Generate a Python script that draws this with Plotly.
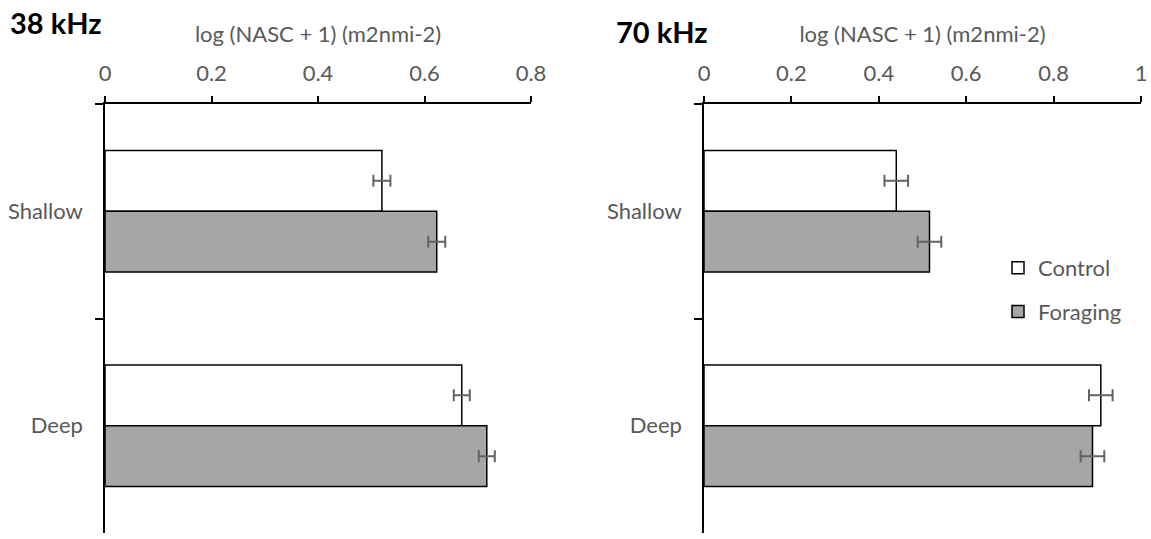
import plotly.graph_objects as go
from plotly.subplots import make_subplots

# Depth strata and treatment groups
depths = ["Shallow", "Deep"]
groups = ["Control", "Foraging"]

# Mean log(NASC + 1) and standard error, 38 kHz
nasc_38_control = [0.520, 0.670]
nasc_38_foraging = [0.623, 0.717]
se_38_control = [0.016, 0.015]
se_38_foraging = [0.016, 0.015]

# Mean log(NASC + 1) and standard error, 70 kHz
nasc_70_control = [0.440, 0.908]
nasc_70_foraging = [0.516, 0.889]
se_70_control = [0.027, 0.027]
se_70_foraging = [0.027, 0.027]

x_ticks_38 = [0, 0.2, 0.4, 0.6, 0.8]
x_ticks_70 = [0, 0.2, 0.4, 0.6, 0.8, 1]

W, H = 1151, 539
FONT = "Lato"
GREY_TXT = "#595959"
FILLS = {"Control": "#FFFFFF", "Foraging": "#A6A6A6"}

fig = make_subplots(rows=1, cols=2)

panels = [
    (1, [nasc_38_control, nasc_38_foraging], [se_38_control, se_38_foraging], False),
    (2, [nasc_70_control, nasc_70_foraging], [se_70_control, se_70_foraging], True),
]
for col, vals, errs, show_leg in panels:
    for g, v, e in zip(groups, vals, errs):
        fig.add_trace(
            go.Bar(
                y=depths, x=v, name=g, orientation="h",
                marker=dict(color=FILLS[g], line=dict(color="black", width=1.5)),
                error_x=dict(type="data", array=e, color="#636363",
                             thickness=2, width=6),
                showlegend=show_leg, legendgroup=g,
            ),
            row=1, col=col,
        )

def px_x(p):
    return p / W

def px_y(p):
    return 1 - p / H

y_dom = [px_y(533), px_y(104)]

axis_common = dict(
    side="top", ticks="outside", ticklen=6, tickwidth=1.5, tickcolor="black",
    showline=True, linecolor="black", linewidth=1.5, showgrid=False,
    zeroline=False, automargin=False, ticklabelstandoff=6,
    tickfont=dict(family=FONT, size=22, color=GREY_TXT),
    title=dict(text="log (NASC + 1) (m2nmi-2)",
               font=dict(family=FONT, size=22, color=GREY_TXT), standoff=11),
)

fig.update_layout(
    xaxis=dict(axis_common, domain=[px_x(105), px_x(531)], range=[0, 0.8],
               tickvals=x_ticks_38, ticktext=[f"{t:g}" for t in x_ticks_38],
               anchor="y"),
    xaxis2=dict(axis_common, domain=[px_x(704), px_x(1141)], range=[0, 1],
                tickvals=x_ticks_70, ticktext=[f"{t:g}" for t in x_ticks_70],
                anchor="y2"),
)

yaxis_common = dict(
    domain=y_dom, autorange="reversed", tickson="boundaries",
    ticks="outside", ticklen=8, tickwidth=1.5, tickcolor="black",
    showline=True, linecolor="black", linewidth=1.5, showgrid=False,
    automargin=False,
    tickfont=dict(family=FONT, size=22, color=GREY_TXT),
    ticklabelstandoff=16,
)
fig.update_layout(yaxis=yaxis_common, yaxis2=yaxis_common)

fig.add_annotation(text="<b>38 kHz</b>", x=px_x(8), y=px_y(23), xref="paper",
                   yref="paper", xanchor="left", yanchor="middle",
                   showarrow=False, font=dict(family=FONT, size=29, color="black"))
fig.add_annotation(text="<b>70 kHz</b>", x=px_x(614), y=px_y(31), xref="paper",
                   yref="paper", xanchor="left", yanchor="middle",
                   showarrow=False, font=dict(family=FONT, size=29, color="black"))

fig.update_layout(
    width=W, height=H,
    margin=dict(l=0, r=0, t=0, b=0),
    paper_bgcolor="white", plot_bgcolor="white",
    barmode="group", bargap=0.433, bargroupgap=0,
    legend=dict(x=px_x(998), y=px_y(247), xanchor="left", yanchor="top",
                font=dict(family=FONT, size=22, color=GREY_TXT),
                traceorder="grouped", tracegroupgap=12,
                bgcolor="rgba(0,0,0,0)"),
)

fig.write_html("out.html")
